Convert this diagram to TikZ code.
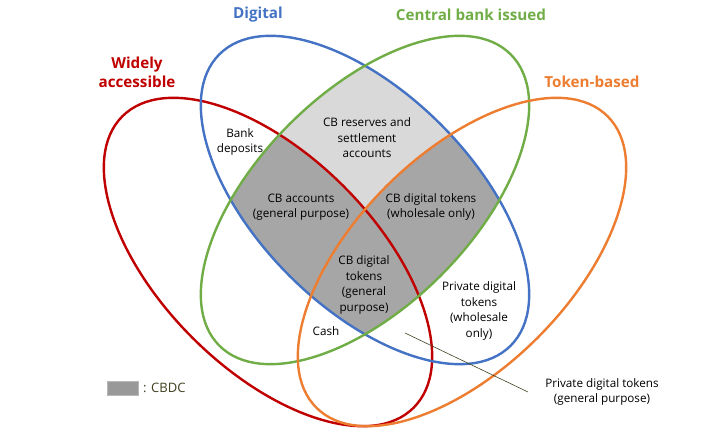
\documentclass[tikz,border=0pt]{standalone}
\usepackage{fontspec}
\setmainfont{Open Sans}
\definecolor{cbred}{HTML}{C00000}
\definecolor{cbblue}{HTML}{4472C4}
\definecolor{cbgreen}{HTML}{70AD47}
\definecolor{cborange}{HTML}{ED7D31}
\definecolor{lgray}{HTML}{D9D9D9}
\definecolor{dgray}{HTML}{A6A6A6}
\definecolor{swatch}{HTML}{999999}
\definecolor{olive}{HTML}{404020}
\tikzset{
  ell/.style={line width=2.4pt},
  lbl/.style={align=center, inner sep=0pt, font=\fontsize{11.7}{15.5}\selectfont},
  ttl/.style={align=center, inner sep=0pt, font=\fontsize{15.2}{19}\selectfont\bfseries},
  leader/.style={draw=olive, line width=0.6pt},
}
\begin{document}
\begin{tikzpicture}[x=1pt,y=-1pt]
\useasboundingbox (0,0) rectangle (721,438);
\coordinate (cB) at (365,200);
\coordinate (cR) at (268,262);
\coordinate (cO) at (462,262);
% shading
\begin{scope}
  \clip[rotate around={-45:(cB)}] (cB) ellipse [x radius=206pt, y radius=107pt];
  \clip[rotate around={45:(cB)}] (cB) ellipse [x radius=206pt, y radius=107pt];
  \fill[lgray] (0,0) rectangle (721,438);
  \fill[dgray, rotate around={-45:(cR)}] (cR) ellipse [x radius=206pt, y radius=107pt];
  \fill[dgray, rotate around={45:(cO)}] (cO) ellipse [x radius=206pt, y radius=107pt];
\end{scope}
% ellipses
\draw[ell, cbred, rotate around={-45:(cR)}] (cR) ellipse [x radius=206pt, y radius=107pt];
\draw[ell, cbblue, rotate around={-45:(cB)}] (cB) ellipse [x radius=206pt, y radius=107pt];
\draw[ell, cbgreen, rotate around={45:(cB)}] (cB) ellipse [x radius=206pt, y radius=107pt];
\draw[ell, cborange, rotate around={45:(cO)}] (cO) ellipse [x radius=206pt, y radius=107pt];
% titles
\node[ttl, text=cbblue] (tDig) at (258,15) {Digital};
\node[ttl, text=cbgreen] (tCB) at (471,15) {Central bank issued};
\node[ttl, text=cbred] (tWA) at (137,72) {Widely\\accessible};
\node[ttl, text=cborange] (tTok) at (592,82) {Token-based};
% region labels
\node[lbl] (bank) at (240,142) {Bank\\deposits};
\node[lbl] (res) at (367,138) {CB reserves and\\settlement\\accounts};
\node[lbl] (cbacc) at (301,207) {CB accounts\\(general purpose)};
\node[lbl] (cbtw) at (431,207) {CB digital tokens\\(wholesale only)};
\node[lbl] (cbtg) at (364,285) {CB digital\\tokens\\(general\\purpose)};
\node[lbl] (cash) at (326,331) {Cash};
\node[lbl] (pdw) at (479,311) {Private digital\\tokens\\(wholesale\\only)};
\node[lbl] (pdg) at (602,392) {Private digital tokens\\(general purpose)};
% leader
\coordinate (ls) at (405,333);
\coordinate (le) at (528,392);
\draw[leader] (ls) -- (le);
% legend
\node[draw=swatch!70!white, fill=swatch, minimum width=31pt, minimum height=14pt, inner sep=0pt, line width=0.6pt] (sw) at (122.5,388) {};
\node[inner sep=0pt, text=olive, anchor=west, font=\fontsize{13}{16}\selectfont] (leg) at (143,388) {: CBDC};
\end{tikzpicture}
\end{document}
